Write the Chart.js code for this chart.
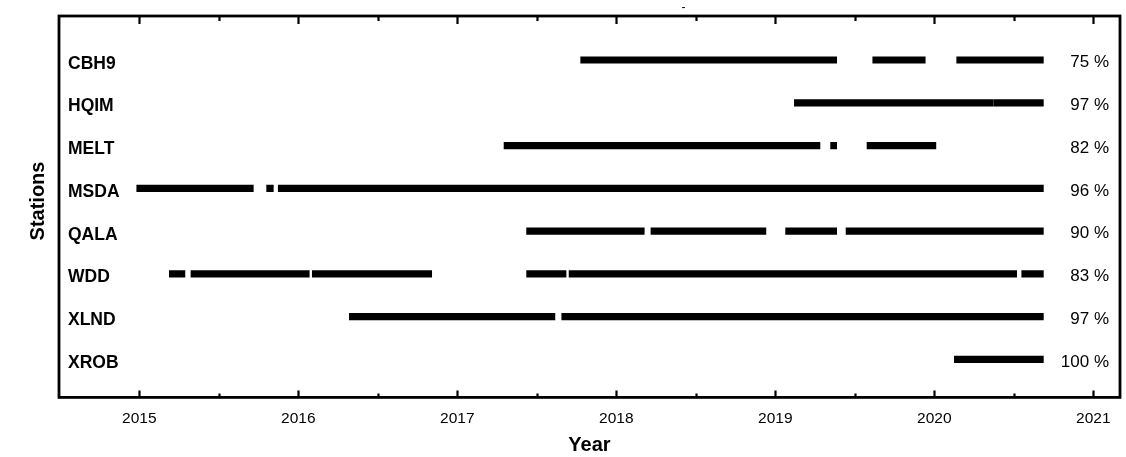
<!DOCTYPE html>
<html>
<head>
<meta charset="utf-8">
<script src="https://cdn.jsdelivr.net/npm/chart.js@4/dist/chart.umd.min.js"></script>
<style>
  html, body { margin: 0; padding: 0; background: #fff; }
  #wrap { width: 1126px; height: 457px; position: relative; }
</style>
</head>
<body>
<div id="wrap"><canvas id="c"></canvas></div>
<script>
// Station names, top to bottom, and their data completeness (%)
const stations = ['CBH9', 'HQIM', 'MELT', 'MSDA', 'QALA', 'WDD', 'XLND', 'XROB'];
const completeness = [75, 97, 82, 96, 90, 83, 97, 100];

// Recording periods per station, as [start, end] in decimal years
const periodsCBH9 = [[2017.776, 2019.386], [2019.613, 2019.943], [2020.141, 2020.686]];
const periodsHQIM = [[2019.120, 2020.370], [2020.374, 2020.686]];
const periodsMELT = [[2017.294, 2019.281], [2019.348, 2019.386], [2019.577, 2020.010]];
const periodsMSDA = [[2014.984, 2015.717], [2015.801, 2015.843], [2015.874, 2020.686]];
const periodsQALA = [[2017.436, 2018.176], [2018.218, 2018.941], [2019.065, 2019.386], [2019.445, 2020.686]];
const periodsWDD  = [[2015.189, 2015.287], [2015.325, 2016.069], [2016.088, 2016.839], [2017.436, 2017.684], [2017.703, 2020.518], [2020.550, 2020.686]];
const periodsXLND = [[2016.321, 2017.614], [2017.657, 2020.686]];
const periodsXROB = [[2020.126, 2020.686]];

// Year axis
const yearMin = 2014.495;
const yearMax = 2021.168;
const tickYears = [2015, 2016, 2017, 2018, 2019, 2020, 2021];
const minorYears = [2015.5, 2016.5, 2017.5, 2018.5, 2019.5, 2020.5];

const allPeriods = [periodsCBH9, periodsHQIM, periodsMELT, periodsMSDA, periodsQALA, periodsWDD, periodsXLND, periodsXROB];

const FONT = '"Liberation Sans", Arial, Helvetica, sans-serif';

const datasets = allPeriods.map((periods, row) => ({
  label: stations[row],
  data: periods.map(p => ({ x: p, y: row })),
  backgroundColor: '#000',
  borderWidth: 0,
  barThickness: 6.5,
  grouped: false
}));

// Frame, inward ticks, station names, percentages and the y title
const decorations = {
  id: 'decorations',
  afterDraw(chart) {
    const { ctx, chartArea: a, scales } = chart;
    const xs = scales.x, ys = scales.y;
    ctx.save();
    ctx.strokeStyle = '#000';
    ctx.lineWidth = 2.8;
    ctx.strokeRect(a.left, a.top, a.right - a.left, a.bottom - a.top);

    ctx.lineWidth = 2.2;
    ctx.beginPath();
    tickYears.forEach(v => {
      const px = Math.round(xs.getPixelForValue(v)) + 0.5;
      ctx.moveTo(px, a.top); ctx.lineTo(px, a.top + 8);
      ctx.moveTo(px, a.bottom); ctx.lineTo(px, a.bottom - 7);
    });
    minorYears.forEach(v => {
      const px = Math.round(xs.getPixelForValue(v)) + 0.5;
      ctx.moveTo(px, a.top); ctx.lineTo(px, a.top + 5);
      ctx.moveTo(px, a.bottom); ctx.lineTo(px, a.bottom - 4);
    });
    ctx.stroke();

    ctx.fillStyle = '#000';
    ctx.textBaseline = 'alphabetic';
    stations.forEach((name, i) => {
      const py = ys.getPixelForValue(i);
      ctx.font = 'bold 17.5px ' + FONT;
      ctx.textAlign = 'left';
      ctx.fillText(name, a.left + 9, py + 8.6);
      ctx.font = '17px ' + FONT;
      ctx.textAlign = 'right';
      ctx.fillText(completeness[i] + ' %', a.right - 11, py + 7.3);
    });

    ctx.font = 'bold 20px ' + FONT;
    ctx.textAlign = 'center';
    ctx.textBaseline = 'middle';
    ctx.translate(38.5, 201);
    ctx.rotate(-Math.PI / 2);
    ctx.fillText('Stations', 0, 0);
    ctx.restore();

    ctx.save();
    ctx.font = '12px ' + FONT;
    ctx.fillStyle = '#000';
    ctx.textAlign = 'center';
    ctx.textBaseline = 'middle';
    ctx.fillText('-', 683.5, 8);
    ctx.restore();
  }
};

new Chart(document.getElementById('c'), {
  type: 'bar',
  data: { datasets },
  options: {
    indexAxis: 'y',
    responsive: true,
    maintainAspectRatio: false,
    animation: false,
    events: [],
    layout: { padding: { left: 59, right: 6, top: 16, bottom: 0 } },
    plugins: { legend: { display: false }, tooltip: { enabled: false }, title: { display: false } },
    scales: {
      y: {
        type: 'linear',
        reverse: true,
        offset: false,
        min: -1.03,
        max: 7.89,
        display: false
      },
      x: {
        type: 'linear',
        min: yearMin,
        max: yearMax,
        grid: { display: false, drawTicks: false },
        border: { display: false },
        afterBuildTicks(scale) { scale.ticks = tickYears.map(v => ({ value: v })); },
        ticks: {
          padding: 12,
          color: '#000',
          font: { family: FONT, size: 15.5 },
          callback: v => String(v),
          maxRotation: 0,
          autoSkip: false
        },
        title: {
          display: true,
          text: 'Year',
          color: '#000',
          font: { family: FONT, size: 20, weight: 'bold' },
          padding: { top: -7, bottom: 0 }
        }
      }
    }
  },
  plugins: [decorations]
});
</script>
</body>
</html>
